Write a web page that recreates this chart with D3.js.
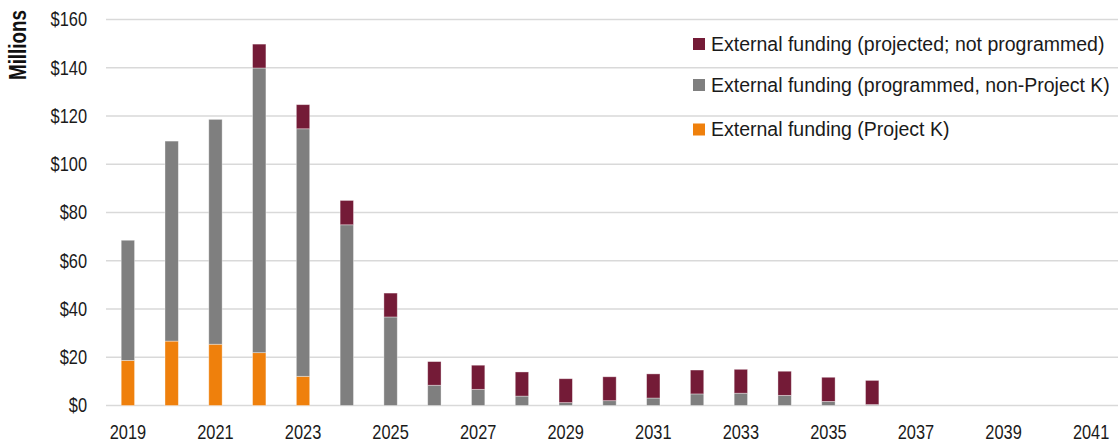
<!DOCTYPE html>
<html><head><meta charset="utf-8">
<script src="https://cdn.jsdelivr.net/npm/d3@7"></script>
<style>
html,body{margin:0;padding:0;background:#fff;}
svg{display:block;}
.tick text{font-family:"Liberation Sans",Arial,sans-serif;fill:#1a1a1a;}
</style></head>
<body><svg id="chart" width="1118" height="445"></svg>
<script>
const years = d3.range(2019, 2042).map(String);
const tickYears = years.filter(y => (+y) % 2 === 1);
const projectK   = [18.7, 26.7, 25.4, 21.9, 12.1, 0, 0, 0, 0, 0, 0, 0, 0, 0, 0, 0, 0, 0, 0, 0, 0, 0, 0];
const programmed = [49.8, 82.9, 93.2, 118.0, 102.6, 74.9, 36.7, 8.4, 6.7, 3.9, 1.2, 2.0, 3.1, 4.8, 5.1, 4.2, 1.7, 0.4, 0, 0, 0, 0, 0];
const projected  = [0, 0, 0, 9.9, 10.0, 10.1, 9.9, 9.8, 10.0, 10.0, 9.9, 9.9, 10.0, 9.9, 9.9, 10.0, 10.0, 10.0, 0, 0, 0, 0, 0];
const yTicks = [0, 20, 40, 60, 80, 100, 120, 140, 160];
const seriesNames = ["External funding (projected; not programmed)", "External funding (programmed, non-Project K)", "External funding (Project K)"];
const seriesColors = ["#741B37", "#7F7F7F", "#EF800C"];

const svg = d3.select("#chart");
const x = d3.scaleBand().domain(years).range([106, 1113]).paddingInner(0.695).paddingOuter(0.3475);
const y = d3.scaleLinear().domain([0, 160]).range([405.5, 19.5]);
const SX = 0.82;

// gridlines
svg.append("g").selectAll("line").data(yTicks).join("line")
  .attr("x1", 106).attr("x2", 1118)
  .attr("y1", d => y(d)).attr("y2", d => y(d))
  .attr("stroke", "#d9d9d9").attr("stroke-width", 1.6);

// stacked data
const rows = years.map((yr, i) => ({year: yr, k: projectK[i], p: programmed[i], n: projected[i]}));
const stack = d3.stack().keys(["k", "p", "n"])(rows);
const colorByKey = {k: seriesColors[2], p: seriesColors[1], n: seriesColors[0]};

svg.append("g").selectAll("g").data(stack).join("g")
  .attr("fill", d => colorByKey[d.key])
  .selectAll("rect").data(d => d.filter(s => s[1] - s[0] > 0)).join("rect")
  .attr("x", d => x(d.data.year))
  .attr("width", x.bandwidth())
  .attr("y", d => y(d[1]))
  .attr("height", d => y(d[0]) - y(d[1]))
  .attr("stroke", "#ffffff").attr("stroke-opacity", 0.45).attr("stroke-width", 0.8);

// y axis
const yAxis = svg.append("g").attr("transform", "translate(106,0)")
  .call(d3.axisLeft(y).tickValues(yTicks).tickSize(0).tickPadding(19).tickFormat(d => "$" + d));
yAxis.select(".domain").remove();
yAxis.selectAll("text").attr("font-size", 20)
  .attr("x", -19 / SX).attr("transform", `scale(${SX},1)`);

// x axis
const xAxis = svg.append("g").attr("transform", "translate(0,405.5)")
  .call(d3.axisBottom(x).tickValues(tickYears).tickSize(0).tickPadding(19.5));
xAxis.select(".domain").remove();
xAxis.selectAll("text").attr("font-size", 20).attr("transform", `scale(${SX},1)`);

// y title
svg.append("text")
  .attr("transform", `translate(25.5,45) rotate(-90) scale(${SX},1)`)
  .attr("text-anchor", "middle")
  .attr("font-family", "'Liberation Sans',Arial,sans-serif")
  .attr("font-weight", "bold").attr("font-size", 23).attr("fill", "#111")
  .text("Millions");

// legend
const legY = [44, 85, 129.5];
const leg = svg.append("g").selectAll("g").data(seriesNames).join("g")
  .attr("transform", (d, i) => `translate(693,${legY[i]})`);
leg.append("rect").attr("x", 0).attr("y", -6).attr("width", 12).attr("height", 12)
  .attr("fill", (d, i) => seriesColors[i]);
leg.append("text").attr("x", 18).attr("y", 0).attr("dy", "0.35em")
  .attr("font-family", "'Liberation Sans',Arial,sans-serif").attr("font-size", 19.5).attr("fill", "#1a1a1a")
  .text(d => d);
</script></body></html>
